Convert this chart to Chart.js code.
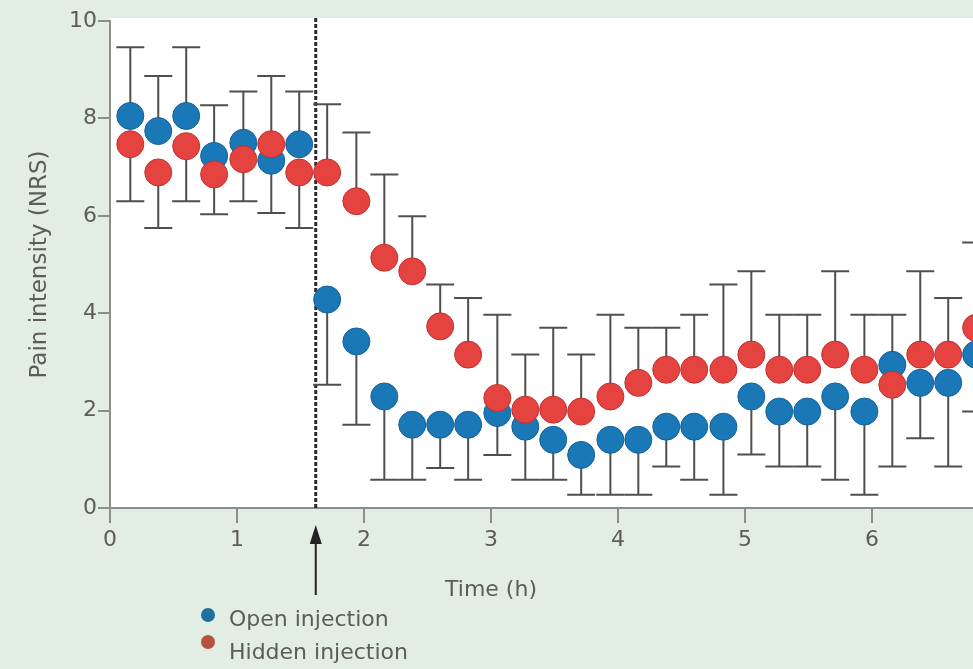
<!DOCTYPE html>
<html>
<head>
<meta charset="utf-8">
<script src="https://cdn.jsdelivr.net/npm/chart.js@4.4.1/dist/chart.umd.min.js"></script>
<style>
  html, body { margin: 0; padding: 0; overflow: hidden; background: #e2ede3; }
  canvas { display: block; }
</style>
</head>
<body>
<canvas id="c" width="1000" height="669" style="width:1000px;height:669px"></canvas>
<script>
// ---- data ----
const times = [0.16, 0.38, 0.60, 0.82, 1.05, 1.27, 1.49, 1.71, 1.94, 2.16, 2.38, 2.60, 2.82, 3.05, 3.27,
               3.49, 3.71, 3.94, 4.16, 4.38, 4.60, 4.83, 5.05, 5.27, 5.49, 5.71, 5.94, 6.16, 6.38, 6.60, 6.82];
const openInjection = [8.05, 7.74, 8.05, 7.23, 7.50, 7.13, 7.47, 4.28, 3.42, 2.29, 1.71, 1.71, 1.71, 1.95, 1.67,
                       1.40, 1.09, 1.40, 1.40, 1.67, 1.67, 1.67, 2.29, 1.98, 1.98, 2.29, 1.98, 2.94, 2.57, 2.57, 3.15];
const hiddenInjection = [7.47, 6.89, 7.43, 6.85, 7.16, 7.47, 6.89, 6.89, 6.30, 5.14, 4.86, 3.73, 3.15, 2.26, 2.02,
                         2.02, 1.98, 2.29, 2.57, 2.84, 2.84, 2.84, 3.15, 2.84, 2.84, 3.15, 2.84, 2.53, 3.15, 3.15, 3.70];
const errorUpper = [9.46, 8.87, 9.46, 8.27, 8.55, 8.87, 8.55, 8.29, 7.71, 6.85, 5.99, 4.59, 4.31, 3.97, 3.15,
                    3.70, 3.15, 3.97, 3.70, 3.70, 3.97, 4.59, 4.86, 3.97, 3.97, 4.86, 3.97, 3.97, 4.86, 4.31, 5.45];
const errorLower = [6.30, 5.75, 6.30, 6.03, 6.30, 6.06, 5.75, 2.53, 1.71, 0.58, 0.58, 0.82, 0.58, 1.09, 0.58,
                    0.58, 0.27, 0.27, 0.27, 0.85, 0.58, 0.27, 1.10, 0.85, 0.85, 0.58, 0.27, 0.85, 1.43, 0.85, 1.98];
const injectionTime = 1.62;
const xTicks = [0, 1, 2, 3, 4, 5, 6];
const yTicks = [0, 2, 4, 6, 8, 10];
const seriesLabels = ['Open injection', 'Hidden injection'];
const xTitle = 'Time (h)';
const yTitle = 'Pain intensity (NRS)';

// ---- styles ----
const FONT = '"DejaVu Sans", "Liberation Sans", sans-serif';
const TEXT = '#5c5c5c';
const AXIS = '#8d8d8d';
const BG = '#e2ede3';
const BLUE = '#1b78b6', BLUE_EDGE = '#15609a';
const RED = '#e44340', RED_EDGE = '#c3302e';

const toPts = ys => times.map((t, i) => ({x: t, y: ys[i]}));

const decor = {
  id: 'decor',
  beforeDraw(chart) {
    const {ctx, chartArea: a, width, height} = chart;
    ctx.save();
    ctx.fillStyle = BG;
    ctx.fillRect(0, 0, width, height);
    ctx.fillStyle = '#ffffff';
    ctx.fillRect(a.left, a.top - 3, a.right - a.left, a.bottom - a.top + 3);
    ctx.restore();
  },
  beforeDatasetsDraw(chart) {
    const {ctx, chartArea: a, scales: {x, y}} = chart;
    ctx.save();
    // injection marker (dashed vertical line)
    const xi = x.getPixelForValue(injectionTime);
    ctx.strokeStyle = '#2b2b2b';
    ctx.lineWidth = 3;
    ctx.setLineDash([4, 2]);
    ctx.beginPath();
    ctx.moveTo(xi, a.top - 3);
    ctx.lineTo(xi, a.bottom);
    ctx.stroke();
    ctx.setLineDash([]);
    // error whiskers: up from the higher point, down from the lower point
    ctx.strokeStyle = '#4f4f4f';
    ctx.lineWidth = 2;
    const cap = 14;
    times.forEach((t, i) => {
      const px = x.getPixelForValue(t);
      const hi = Math.max(openInjection[i], hiddenInjection[i]);
      const lo = Math.min(openInjection[i], hiddenInjection[i]);
      const yHi = y.getPixelForValue(hi), yTop = y.getPixelForValue(errorUpper[i]);
      const yLo = y.getPixelForValue(lo), yBot = y.getPixelForValue(errorLower[i]);
      ctx.beginPath();
      ctx.moveTo(px, yHi); ctx.lineTo(px, yTop);
      ctx.moveTo(px - cap, yTop); ctx.lineTo(px + cap, yTop);
      ctx.moveTo(px, yLo); ctx.lineTo(px, yBot);
      ctx.moveTo(px - cap, yBot); ctx.lineTo(px + cap, yBot);
      ctx.stroke();
    });
    ctx.restore();
  },
  afterDraw(chart) {
    const {ctx, chartArea: a, scales: {x}} = chart;
    ctx.save();
    // arrow below the axis at injection time
    const xi = x.getPixelForValue(injectionTime);
    ctx.strokeStyle = '#222';
    ctx.fillStyle = '#222';
    ctx.lineWidth = 2;
    ctx.beginPath();
    ctx.moveTo(xi, a.bottom + 87);
    ctx.lineTo(xi, a.bottom + 30);
    ctx.stroke();
    ctx.beginPath();
    ctx.moveTo(xi, a.bottom + 17);
    ctx.lineTo(xi - 6, a.bottom + 36);
    ctx.lineTo(xi + 6, a.bottom + 36);
    ctx.closePath();
    ctx.fill();
    // x-axis title
    ctx.fillStyle = TEXT;
    ctx.font = '22px ' + FONT;
    ctx.textAlign = 'center';
    ctx.textBaseline = 'middle';
    ctx.fillText(xTitle, x.getPixelForValue(3), a.bottom + 82);
    // legend
    const legendColors = ['#1f6f9f', '#b3543f'];
    const rows = [{dy: 107, ty: 112}, {dy: 134, ty: 145}];
    ctx.textAlign = 'left';
    chart.data.datasets.forEach((ds, i) => {
      ctx.fillStyle = legendColors[i];
      ctx.beginPath();
      ctx.arc(208, a.bottom + rows[i].dy, 7, 0, Math.PI * 2);
      ctx.fill();
      ctx.fillStyle = TEXT;
      ctx.fillText(ds.label, 229, a.bottom + rows[i].ty);
    });
    ctx.restore();
  }
};

new Chart(document.getElementById('c'), {
  type: 'scatter',
  data: {
    datasets: [
      { label: seriesLabels[0], data: toPts(openInjection), order: 1,
        backgroundColor: BLUE, borderColor: BLUE_EDGE, borderWidth: 1, pointRadius: 13.5 },
      { label: seriesLabels[1], data: toPts(hiddenInjection), order: 0,
        backgroundColor: RED, borderColor: RED_EDGE, borderWidth: 1, pointRadius: 13.5 }
    ]
  },
  options: {
    responsive: false,
    animation: false,
    events: [],
    devicePixelRatio: 1,
    layout: { autoPadding: false, padding: { top: 21, right: 1, left: 0, bottom: 0 } },
    plugins: { legend: { display: false }, tooltip: { enabled: false } },
    scales: {
      x: {
        type: 'linear', min: 0, max: 7,
        afterBuildTicks: s => { s.ticks = xTicks.map(v => ({value: v})); },
        ticks: { font: { family: FONT, size: 22 }, color: TEXT, padding: 4, maxRotation: 0, autoSkip: false },
        grid: { drawOnChartArea: false, drawTicks: true, tickLength: 15, color: AXIS, lineWidth: 2 },
        border: { color: AXIS, width: 2 },
        afterFit: s => { s.height = 161; }
      },
      y: {
        min: 0, max: 10,
        afterBuildTicks: s => { s.ticks = yTicks.map(v => ({value: v})); },
        ticks: { font: { family: FONT, size: 22 }, color: TEXT, padding: 1 },
        grid: { drawOnChartArea: false, drawTicks: true, tickLength: 12, color: AXIS, lineWidth: 2 },
        border: { color: AXIS, width: 2 },
        title: { display: true, text: yTitle, font: { family: FONT, size: 23 }, color: TEXT, padding: { top: 26, bottom: 0 } },
        afterFit: s => { s.width = 110; }
      }
    }
  },
  plugins: [decor]
});
</script>
</body>
</html>
